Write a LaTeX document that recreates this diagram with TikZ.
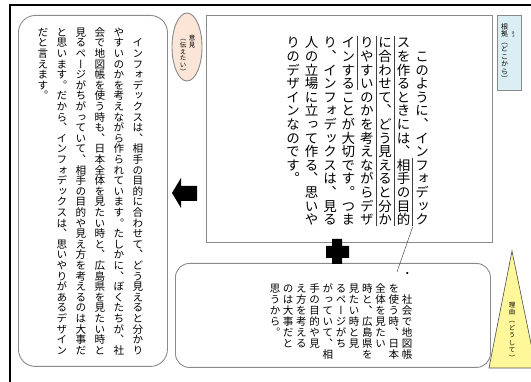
\documentclass[tikz,border=0pt]{standalone}
\usepackage{fontspec}
\newfontfamily\jpv[RawFeature=+vert]{Noto Sans CJK JP}
\usetikzlibrary{shapes.geometric}
\definecolor{boxgray}{HTML}{8A8A8A}
\definecolor{peach}{HTML}{FBE5D6}
\definecolor{paleblue}{HTML}{DAEEF3}
\definecolor{paleyellow}{HTML}{FFF799}
\makeatletter
\newdimen\tatepitch
\newdimen\tatecolw
\def\tate@stop{\tate@stop}
\def\tate@next#1{\ifx#1\tate@stop\else\vbox to\tatepitch{\vss\hbox to1em{\hss\vrule height.88em depth.12em width0pt\relax#1\hss}\vss}\expandafter\tate@next\fi}
\newcommand\tcol[1]{\hbox to\tatecolw{\hss\vtop{\offinterlineskip\tate@next#1\tate@stop}\hss}}
\newcommand\tateset[3]{\jpv\fontsize{#1}{#1}\selectfont\tatepitch=#2\relax\tatecolw=#3\relax}
\makeatother
\begin{document}
\begin{tikzpicture}[x=1pt,y=-1pt,
  frame/.style={draw=boxgray, line width=0.9pt},
  tate/.style={inner sep=0pt, outer sep=0pt, anchor=north east},
  sideline/.style={draw=black!75, line width=0.6pt}]
\path[use as bounding box] (0,0) rectangle (531,382);
% outer frame
\draw[line width=2pt] (10,382) -- (10,5) -- (531,5);
% boxes
\node[frame, rounded corners=17pt, minimum width=149, minimum height=351, anchor=north west] (leftbox) at (18,15) {};
\node[frame, minimum width=286, minimum height=227, anchor=north west] (mainbox) at (206,15) {};
\node[frame, rounded corners=14pt, minimum width=315, minimum height=104, anchor=north west] (bottombox) at (175,263) {};
\node[frame, fill=paleblue, minimum width=24, minimum height=75, anchor=north west] (basis) at (497,15) {};
\node[frame, fill=peach, ellipse, minimum width=30, minimum height=68] (opinion) at (187,47) {};
\draw[draw=black!70, line width=0.6pt, fill=paleyellow] (512,251) -- (536,368) -- (489,368) -- cycle;
% main text
\node[tate] (maintext) at (431.2,36) {\tateset{13.5pt}{13.6pt}{18.4pt}%
\tcol{りのデザインなのです。}%
\tcol{人の立場に立って作る、思いや}%
\tcol{り、インフォデックスは、見る}%
\tcol{インすることが大切です。つま}%
\tcol{りやすいのかを考えながらデザ}%
\tcol{に合わせて、どう見えると分か}%
\tcol{スを作るときには、相手の目的}%
\tcol{　このように、インフォデック}};
% side lines
\draw[sideline] (412.6,158.4) -- (412.6,226.4);
\draw[sideline] (394.2,36) -- (394.2,226.4);
\draw[sideline] (375.8,36) -- (375.8,226.4);
\draw[sideline] (357.4,36) -- (357.4,90.4);
% left text
\node[tate] (lefttext) at (147.5,27) {\tateset{10.6pt}{10.6pt}{19pt}%
\tcol{だと言えます。}%
\tcol{と思います。だから、インフォデックスは、思いやりがあるデザイン}%
\tcol{見るページがちがっていて、相手の目的や見え方を考えるのは大事だ}%
\tcol{会で地図帳を使う時も、日本全体を見たい時と、広島県を見たい時と}%
\tcol{やすいのかを考えながら作られています。たしかに、ぼくたちが、社}%
\tcol{　インフォデックスは、相手の目的に合わせて、どう見えると分かり}};
% bottom text
\node[tate] (bullet) at (414,268) {\tateset{10.5pt}{11pt}{13.2pt}\tcol{・}};
\node[tate] (bottomtext) at (413.6,283) {\tateset{10.5pt}{11pt}{13.2pt}%
\tcol{思うから。}%
\tcol{のは大事だと}%
\tcol{え方を考える}%
\tcol{手の目的や見}%
\tcol{がっていて、相}%
\tcol{るページがち}%
\tcol{見たい時と見}%
\tcol{時と、広島県を}%
\tcol{全体を見たい}%
\tcol{を使う時、日本}%
\tcol{　社会で地図帳}};
% callout connector
\coordinate (calloutA) at (412.6,227);
\coordinate (calloutB) at (397,272);
\draw[draw=black!70, line width=0.5pt] (calloutA) -- (calloutB);
% small labels
\node[tate] (opiniontext) at (196.5,35) {\tateset{6.5pt}{6.7pt}{9pt}%
\tcol{（伝えたい）}\tcol{意見}};
\node[tate] (basistext) at (509,23) {\tateset{7pt}{7.5pt}{9pt}\tcol{根拠（どこから）}};
\node[tate] (basisruby) at (515.5,31) {\tateset{3.5pt}{3.6pt}{5pt}\tcol{きょ}};
\node[tate] (reasontext) at (516.5,301) {\tateset{6.5pt}{7.6pt}{9pt}\tcol{理由（どうして）}};
% arrow and plus
\fill (172,193) -- (181,178) -- (181,186) -- (197,186) -- (197,201) -- (181,201) -- (181,208) -- cycle;
\fill (332,239) -- (342,239) -- (342,246) -- (349,246) -- (349,258) -- (342,258) -- (342,264) -- (332,264) -- (332,258) -- (326,258) -- (326,246) -- (332,246) -- cycle;
\end{tikzpicture}
\end{document}
